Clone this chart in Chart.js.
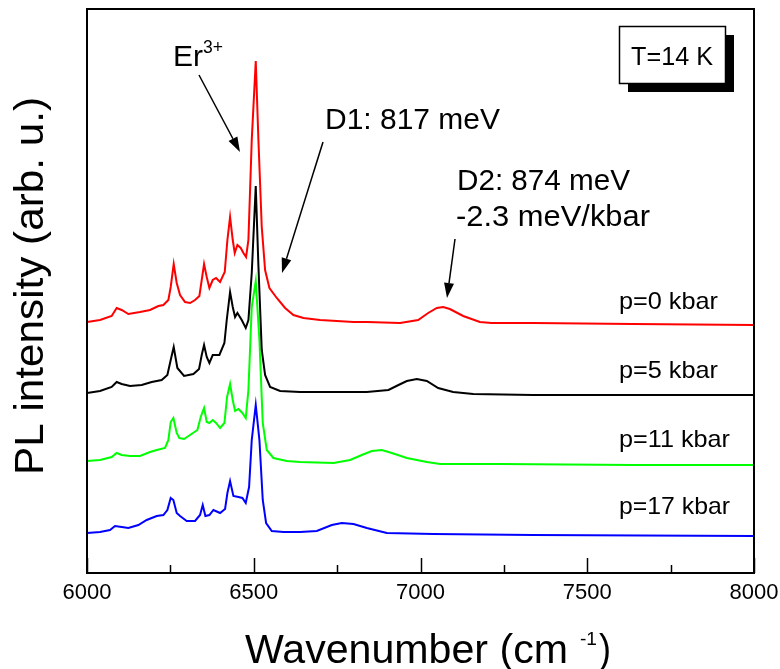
<!DOCTYPE html>
<html>
<head>
<meta charset="utf-8">
<script src="https://cdn.jsdelivr.net/npm/chart.js@4.4.1/dist/chart.umd.min.js"></script>
<style>
  html, body { margin: 0; padding: 0; background: #fff; }
</style>
</head>
<body>
<canvas id="pl-chart" width="780" height="669"></canvas>
<script>
// wavenumber (cm-1) and PL intensity (arb. u., curves offset) per pressure
const wnP0 = [6000, 6039, 6074, 6089, 6104, 6124, 6159, 6189, 6214, 6229, 6244, 6251, 6260, 6269, 6279, 6294, 6309, 6324, 6337, 6344, 6351, 6359, 6367, 6377, 6387, 6399, 6413, 6421, 6429, 6437, 6443, 6451, 6461, 6469, 6477, 6484, 6494, 6506, 6514, 6524, 6534, 6547, 6569, 6594, 6619, 6649, 6699, 6799, 6839, 6939, 6993, 7023, 7049, 7068, 7088, 7128, 7178, 7213, 7337, 7637, 8000];
const plP0 = [2.51, 2.53, 2.57, 2.65, 2.63, 2.59, 2.61, 2.63, 2.67, 2.68, 2.73, 2.86, 3.09, 2.90, 2.78, 2.71, 2.70, 2.73, 2.77, 2.93, 3.09, 2.96, 2.85, 2.93, 2.95, 2.91, 3.01, 3.33, 3.56, 3.33, 3.20, 3.28, 3.25, 3.20, 3.16, 3.33, 4.33, 5.12, 4.33, 3.46, 3.03, 2.85, 2.75, 2.65, 2.58, 2.55, 2.53, 2.51, 2.51, 2.50, 2.53, 2.60, 2.65, 2.66, 2.64, 2.57, 2.51, 2.50, 2.50, 2.49, 2.48];

const wnP5 = [6000, 6039, 6074, 6089, 6104, 6129, 6164, 6194, 6224, 6241, 6251, 6260, 6271, 6291, 6319, 6336, 6344, 6351, 6359, 6367, 6377, 6397, 6412, 6419, 6429, 6437, 6444, 6451, 6464, 6476, 6484, 6494, 6506, 6514, 6524, 6534, 6549, 6579, 6639, 6739, 6839, 6904, 6934, 6959, 6989, 7019, 7053, 7098, 7158, 7337, 7637, 8000];
const plP5 = [1.80, 1.82, 1.86, 1.91, 1.89, 1.87, 1.88, 1.91, 1.93, 1.98, 2.13, 2.26, 2.05, 1.97, 1.99, 2.04, 2.18, 2.28, 2.16, 2.10, 2.18, 2.18, 2.30, 2.53, 2.81, 2.66, 2.56, 2.60, 2.53, 2.45, 2.53, 3.00, 3.87, 3.07, 2.23, 1.98, 1.86, 1.82, 1.81, 1.81, 1.81, 1.83, 1.88, 1.92, 1.94, 1.92, 1.85, 1.81, 1.79, 1.78, 1.78, 1.78];

const wnP11 = [6000, 6039, 6074, 6089, 6104, 6129, 6159, 6189, 6209, 6234, 6244, 6251, 6259, 6269, 6277, 6291, 6309, 6331, 6341, 6351, 6359, 6367, 6377, 6387, 6399, 6412, 6420, 6429, 6437, 6444, 6454, 6466, 6476, 6484, 6494, 6506, 6517, 6527, 6539, 6559, 6599, 6639, 6739, 6789, 6824, 6854, 6884, 6914, 6959, 7019, 7059, 7238, 7637, 8000];
const plP11 = [1.12, 1.13, 1.16, 1.20, 1.18, 1.17, 1.17, 1.21, 1.23, 1.25, 1.33, 1.51, 1.55, 1.40, 1.35, 1.34, 1.38, 1.43, 1.56, 1.65, 1.51, 1.50, 1.53, 1.50, 1.45, 1.50, 1.76, 1.89, 1.73, 1.62, 1.64, 1.60, 1.55, 1.83, 2.66, 2.92, 2.33, 1.50, 1.23, 1.15, 1.12, 1.11, 1.10, 1.13, 1.18, 1.22, 1.23, 1.20, 1.15, 1.11, 1.09, 1.09, 1.08, 1.08];

const wnP17 = [6000, 6039, 6069, 6084, 6104, 6124, 6154, 6179, 6209, 6229, 6241, 6251, 6259, 6269, 6279, 6299, 6324, 6339, 6347, 6355, 6367, 6379, 6399, 6414, 6421, 6429, 6439, 6454, 6466, 6476, 6486, 6494, 6506, 6517, 6527, 6537, 6554, 6589, 6639, 6689, 6734, 6764, 6799, 6839, 6899, 7038, 7337, 8000];
const plP17 = [0.40, 0.41, 0.43, 0.47, 0.46, 0.45, 0.48, 0.53, 0.57, 0.58, 0.63, 0.75, 0.73, 0.60, 0.57, 0.52, 0.52, 0.58, 0.68, 0.57, 0.58, 0.63, 0.60, 0.64, 0.80, 0.92, 0.77, 0.76, 0.75, 0.70, 0.86, 1.33, 1.68, 1.33, 0.73, 0.50, 0.42, 0.41, 0.41, 0.42, 0.48, 0.50, 0.49, 0.45, 0.40, 0.39, 0.38, 0.37];

const seriesLabels = ['p=0 kbar', 'p=5 kbar', 'p=11 kbar', 'p=17 kbar'];
const xTicks = [6000, 6500, 7000, 7500, 8000];
const xMinorTicks = [6250, 6750, 7250, 7750];

const colors = ['#ff0000', '#000000', '#00ff00', '#0000ff'];
const FONT = '"Liberation Sans", Arial, Helvetica, sans-serif';

const toPoints = (xs, ys) => xs.map((v, i) => ({ x: v, y: ys[i] }));

// draw text squeezed/stretched to a given width
function fitText(ctx, str, x, y, size, w) {
	ctx.font = size + 'px ' + FONT;
	const m = ctx.measureText(str).width;
	ctx.save();
	ctx.translate(x, y);
	ctx.scale(w / m, 1);
	ctx.fillText(str, 0, 0);
	ctx.restore();
}

function arrow(ctx, x1, y1, x2, y2) {
	const a = Math.atan2(y2 - y1, x2 - x1);
	const len = 15, half = 5;
	const bx = x2 - len * Math.cos(a), by = y2 - len * Math.sin(a);
	ctx.beginPath();
	ctx.moveTo(x1, y1);
	ctx.lineTo(bx, by);
	ctx.stroke();
	ctx.beginPath();
	ctx.moveTo(x2, y2);
	ctx.lineTo(bx + half * Math.sin(a), by - half * Math.cos(a));
	ctx.lineTo(bx - half * Math.sin(a), by + half * Math.cos(a));
	ctx.closePath();
	ctx.fill();
}

const decor = {
	id: 'decor',
	afterDraw(chart) {
		const { ctx, chartArea: a, scales: { x } } = chart;
		ctx.save();
		ctx.strokeStyle = '#000';
		ctx.fillStyle = '#000';
		ctx.textBaseline = 'alphabetic';
		ctx.textAlign = 'left';

		// frame
		ctx.lineWidth = 2;
		ctx.strokeRect(a.left, a.top, a.right - a.left, a.bottom - a.top);

		// inward ticks on the bottom axis
		ctx.lineWidth = 1.5;
		xTicks.forEach(v => {
			const px = Math.round(x.getPixelForValue(v)) + 0.5;
			ctx.beginPath(); ctx.moveTo(px, a.bottom); ctx.lineTo(px, a.bottom - 15); ctx.stroke();
		});
		xMinorTicks.forEach(v => {
			const px = Math.round(x.getPixelForValue(v)) + 0.5;
			ctx.beginPath(); ctx.moveTo(px, a.bottom); ctx.lineTo(px, a.bottom - 8); ctx.stroke();
		});

		// axis titles
		fitText(ctx, 'Wavenumber (cm', 245, 663, 40, 323);
		fitText(ctx, '-1', 580, 645, 19, 17);
		fitText(ctx, ')', 599, 663, 40, 12);

		ctx.save();
		ctx.translate(43, 475);
		ctx.rotate(-Math.PI / 2);
		fitText(ctx, 'PL intensity (arb. u.)', 0, 0, 40, 378);
		ctx.restore();

		// annotations
		fitText(ctx, 'Er', 173, 66, 30, 30);
		fitText(ctx, '3+', 203, 53, 18, 20);
		fitText(ctx, 'D1: 817 meV', 325, 129, 30, 175);
		fitText(ctx, 'D2: 874 meV', 457, 190, 30, 173);
		fitText(ctx, '-2.3 meV/kbar', 456, 226, 30, 194);

		ctx.lineWidth = 1.5;
		arrow(ctx, 199, 75, 240, 152);
		arrow(ctx, 323, 142, 282, 273);
		arrow(ctx, 455, 239, 447, 298);

		const labelBase = [309, 378, 447, 514];
		seriesLabels.forEach((s, i) => fitText(ctx, s, 619, labelBase[i], 24, s.length > 8 ? 111 : 99));

		// temperature box with shadow
		ctx.fillStyle = '#000';
		ctx.fillRect(628, 35, 106, 57);
		ctx.fillStyle = '#fff';
		ctx.fillRect(619, 26, 106, 57);
		ctx.lineWidth = 1.5;
		ctx.strokeRect(619.5, 26.5, 106, 57);
		ctx.fillStyle = '#000';
		fitText(ctx, 'T=14 K', 631, 65, 26, 82);

		ctx.restore();
	}
};

new Chart(document.getElementById('pl-chart').getContext('2d'), {
	type: 'line',
	data: {
		datasets: [
			{ label: seriesLabels[0], data: toPoints(wnP0, plP0), borderColor: colors[0] },
			{ label: seriesLabels[1], data: toPoints(wnP5, plP5), borderColor: colors[1] },
			{ label: seriesLabels[2], data: toPoints(wnP11, plP11), borderColor: colors[2] },
			{ label: seriesLabels[3], data: toPoints(wnP17, plP17), borderColor: colors[3] },
		]
	},
	options: {
		responsive: false,
		animation: false,
		devicePixelRatio: 1,
		layout: { padding: { left: 87, top: 9, right: 26, bottom: 64 } },
		plugins: {
			legend: { display: false },
			tooltip: { enabled: false }
		},
		elements: {
			point: { radius: 0 },
			line: { tension: 0, borderWidth: 2, fill: false }
		},
		scales: {
			x: {
				type: 'linear',
				min: 6000,
				max: 8000,
				afterBuildTicks: s => { s.ticks = xTicks.map(v => ({ value: v })); },
				afterFit: s => { s.height = 32; s.paddingLeft = 0; s.paddingRight = 0; },
				grid: { display: false, drawTicks: false },
				border: { display: false },
				ticks: {
					color: '#000',
					padding: 7,
					font: { family: FONT, size: 22 },
					callback: v => String(v)
				}
			},
			y: {
				type: 'linear',
				min: 0,
				max: 5.64,
				display: false
			}
		}
	},
	plugins: [decor]
});
</script>
</body>
</html>
